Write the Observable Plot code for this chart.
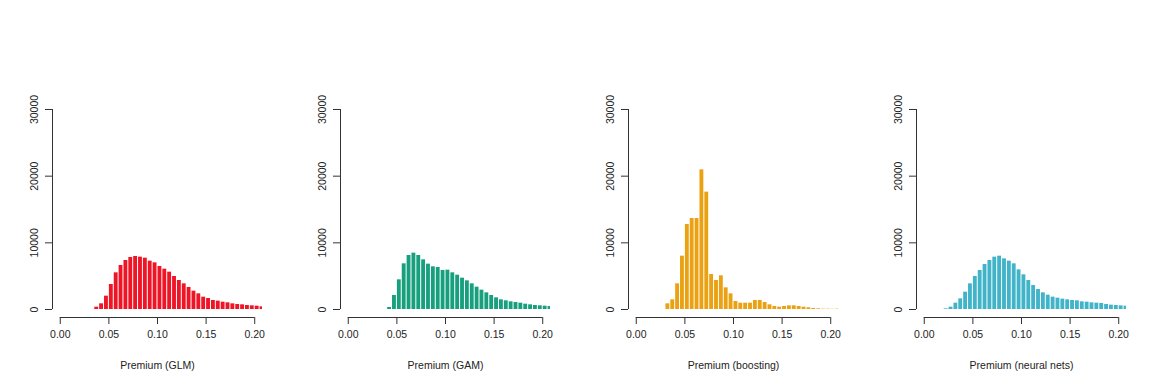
<!DOCTYPE html>
<html><head><meta charset="utf-8">
<script src="https://cdn.jsdelivr.net/npm/d3@7"></script>
<script src="https://cdn.jsdelivr.net/npm/@observablehq/plot@0.6"></script>
<style>
body{margin:0;background:#fff;}
#row{display:flex;width:1152px;height:384px;}
svg{display:block}
</style></head><body><div id="row"></div>
<script>
const binStart = [0.020,0.025,0.030,0.035,0.040,0.045,0.050,0.055,0.060,0.065,0.070,0.075,0.080,0.085,0.090,0.095,0.100,0.105,0.110,0.115,0.120,0.125,0.130,0.135,0.140,0.145,0.150,0.155,0.160,0.165,0.170,0.175,0.180,0.185,0.190,0.195,0.200,0.205];
const binWidth = 0.005;
const glm = [0,0,0,350,850,2000,3750,5500,6600,7350,7800,7950,7850,7700,7250,7000,6450,6050,5600,4950,4350,3850,3300,2750,2350,1850,1650,1350,1250,1100,1000,850,750,700,600,550,500,400];
const gam = [0,0,0,0,300,2100,4450,6850,8100,8450,8100,7450,6800,6400,6300,5850,5900,5500,5150,4700,4300,3850,3350,2900,2500,2100,1750,1450,1300,1150,1050,950,800,700,600,550,500,450];
const boosting = [0,0,850,1450,3850,8000,12750,13650,13650,20950,17600,5250,4350,5050,3250,2350,1200,950,950,950,1350,1350,1050,700,450,350,450,550,550,450,350,250,150,100,50,50,30,60];
const neural = [100,350,950,1600,2600,3850,4950,5850,6750,7350,7850,8000,7600,7250,6850,5950,5200,4350,3600,3000,2500,2150,1850,1700,1550,1450,1350,1300,1150,1100,1000,950,900,750,650,600,550,500];
const models = ["GLM","GAM","boosting","neural nets"];
const series = [glm, gam, boosting, neural];
const colors = ["#EE1526","#18A07E","#EAA112","#42B4CA"];
const xTicks = [0,0.05,0.10,0.15,0.20];
const yTicks = [0,10000,20000,30000];
const xDomain = [-0.008,0.208];
const yDomain = [-1200,31200];

const row = document.getElementById("row");
models.forEach((m, k) => {
  const data = binStart.map((s, i) => ({x1: s, x2: s + binWidth, count: series[k][i]})).filter(d => d.count > 0);
  const chart = Plot.plot({
    width: 288, height: 384,
    marginLeft: 52, marginRight: 26, marginTop: 101, marginBottom: 67,
    x: {domain: xDomain},
    y: {domain: yDomain},
    style: {fontFamily: "'Liberation Sans', Arial, sans-serif", fontSize: "10.5px", color: "#222", background: "white", overflow: "visible"},
    marks: [
      Plot.rectY(data, {x1: "x1", x2: "x2", y: "count", fill: colors[k], insetLeft: 0.5, insetRight: 0.5, clip: true}),
      Plot.ruleX([xDomain[0]], {y1: yTicks[0], y2: yTicks[yTicks.length-1], stroke: "#333"}),
      Plot.ruleY([yDomain[0]], {x1: xTicks[0], x2: xTicks[xTicks.length-1], stroke: "#333"}),
      Plot.axisY(yTicks, {tickSize: 7, tickPadding: 8, tickRotate: -90, tickFormat: d3.format("d"), label: null, stroke: "#333"}),
      Plot.axisX(xTicks, {tickSize: 7, tickPadding: 6, tickFormat: d3.format(".2f"), label: null, stroke: "#333"}),
      Plot.text([`Premium (${m})`], {frameAnchor: "bottom", dy: 48, lineAnchor: "middle", fill: "#222"})
    ]
  });
  row.appendChild(chart);
});
</script></body></html>
